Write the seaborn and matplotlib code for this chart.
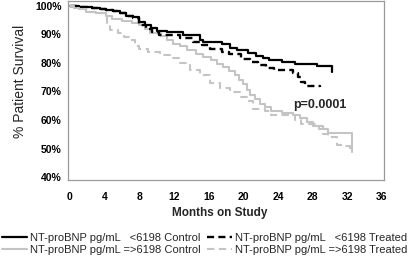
import matplotlib
matplotlib.use("Agg")
import matplotlib.pyplot as plt
import seaborn as sns
import pandas as pd

# ---- data ----
ctrl_low_t = [0, 1, 2.5, 3.5, 4.2, 5, 5.8, 6.5, 7.3, 8, 8.6, 9.3, 10, 11.2, 13, 15, 15.4,
              17.5, 18.5, 19.3, 20.5, 21.5, 22.3, 23, 24.5, 26, 28.5, 30.2]
ctrl_low_s = [100, 99.7, 99.4, 99, 98.6, 98.1, 97.4, 96.6, 96, 94.5, 93.2, 92.3, 91.3, 91.0,
              89.8, 88.2, 87.3, 86.5, 85.4, 84.6, 83.6, 82.6, 81.8, 81.1, 80.4, 79.8, 78.8, 77.0]

treat_low_t = [0, 1, 2.5, 3.5, 4.2, 5, 5.8, 6.5, 7.3, 8, 8.8, 9.5, 10.3, 12.7, 14.2, 15.2,
               16.2, 17.5, 18.3, 19.7, 20.8, 21.7, 22.6, 23.5, 25.7, 26.3, 26.7, 27.1, 28.8]
treat_low_s = [100, 99.7, 99.4, 99, 98.6, 98.1, 97.4, 96.6, 95.8, 93.5, 92.0, 91.0, 89.8,
               88.8, 87.4, 86.2, 85.0, 84.0, 83.0, 81.5, 80.2, 79.2, 78.3, 77.5, 76.6, 75.0,
               73.5, 72.0, 71.6]

ctrl_high_t = [0, 0.5, 1, 1.8, 3, 4.2, 4.8, 6, 7.2, 8, 8.6, 9.2, 10.5, 11.2, 11.9, 12.7,
               13.5, 14.5, 15.3, 16.3, 17, 17.7, 18.3, 19, 19.5, 20, 20.4, 20.8, 21.3, 21.9,
               22.5, 23.2, 24.5, 25.7, 26.5, 27.3, 28, 28.7, 29.8, 32.5]
ctrl_high_s = [100, 99.4, 98.8, 97.9, 97.5, 96.5, 95.6, 94.8, 94.0, 93.2, 91.8, 90.6, 89.4,
               88.1, 86.6, 85.8, 84.6, 83.3, 82.2, 81.0, 79.8, 78.6, 77.3, 75.8, 74.2, 72.5,
               70.5, 68.8, 67.5, 65.6, 64.6, 63.2, 62.6, 61.6, 60.8, 59.4, 58.0, 56.9, 55.3,
               48.6]

treat_high_t = [0, 0.5, 1, 1.8, 3, 4.0, 4.3, 4.6, 5.5, 6.2, 6.8, 7.5, 8, 9, 10.4, 11.5,
                12.7, 13.8, 15, 16.1, 17.3, 18.5, 19.6, 20.4, 21.1, 22.5, 23.2, 26.0, 26.6,
                28.5, 29.2, 29.8, 30.8, 31.5, 32.3]
treat_high_s = [100, 99.4, 98.8, 97.9, 97.5, 96.0, 93.5, 91.6, 90.5, 89.1, 88.0, 86.0, 84.8,
                84.0, 82.8, 81.6, 79.9, 77.5, 75.8, 72.9, 71.1, 69.9, 68.2, 66.6, 64.0, 63.0,
                61.8, 60.0, 58.6, 58.0, 55.2, 54.0, 51.2, 50.8, 49.2]

labels = ["NT-proBNP pg/mL   <6198 Control",
          "NT-proBNP pg/mL =>6198 Control",
          "NT-proBNP pg/mL   <6198 Treated",
          "NT-proBNP pg/mL =>6198 Treated"]
x_ticks = [0, 4, 8, 12, 16, 20, 24, 28, 32, 36]
y_ticks = [40, 50, 60, 70, 80, 90, 100]
p_text = "p=0.0001"

series = [(ctrl_low_t, ctrl_low_s), (ctrl_high_t, ctrl_high_s),
          (treat_low_t, treat_low_s), (treat_high_t, treat_high_s)]
frames = []
for lab, (t, s) in zip(labels, series):
    frames.append(pd.DataFrame({"month": t, "surv": s, "group": lab}))
df = pd.concat(frames, ignore_index=True)

sns.set_style("white")
plt.rcParams['font.family'] = ['Liberation Sans', 'DejaVu Sans']

palette = {labels[0]: "#000000", labels[1]: "#c4c4c4",
           labels[2]: "#000000", labels[3]: "#c4c4c4"}
dashes = {labels[0]: "", labels[1]: "", labels[2]: (3.0, 1.8), labels[3]: (3.5, 2.2)}

fig = plt.figure(figsize=(4.1, 2.56), dpi=100)
ax = fig.add_axes([68 / 410, 76 / 256, 316 / 410, 179 / 256])

sns.lineplot(data=df, x="month", y="surv", hue="group", style="group",
             hue_order=labels, style_order=labels, palette=palette, dashes=dashes,
             estimator=None, sort=False, drawstyle="steps-post", linewidth=1.5,
             legend=False, ax=ax)

lines = ax.get_lines()
for ln, lab in zip(lines, labels):
    ln.set_label(lab)
lines[0].set_linewidth(1.6)
lines[2].set_linewidth(1.7)

ax.set_xlim(-0.23, 36.23)
ax.set_ylim(38.95, 101.75)
ax.set_xticks(x_ticks)
ax.set_xticklabels([str(v) for v in x_ticks])
ax.set_yticks(y_ticks)
ax.set_yticklabels([f"{v}%" for v in y_ticks])
for sp in ax.spines.values():
    sp.set_color("#9a9a9a")
    sp.set_linewidth(0.9)
ax.tick_params(axis="both", direction="out", length=3, width=0.8, colors="#9a9a9a",
               labelcolor="black", labelsize=7.5)
ax.tick_params(axis="x", pad=5.5)
ax.tick_params(axis="y", pad=1.5)
plt.setp(ax.get_xticklabels(), fontweight="bold")
plt.setp(ax.get_yticklabels(), fontweight="bold")

ax.set_xlabel("Months on Study", fontsize=8.5, fontweight="bold")
ax.xaxis.set_label_coords(0.48, -0.15)
ax.set_ylabel("% Patient Survival", fontsize=10)
ax.yaxis.set_label_coords(-0.13, 0.55)

ax.text(25.7, 65.3, p_text, ha="left", va="center", fontsize=9, fontweight="bold")

handles = [lines[0], lines[1], lines[2], lines[3]]
fig.legend(handles, labels, loc="center", bbox_to_anchor=(0.5, 12 / 256), ncol=2,
           frameon=False, fontsize=8, handlelength=2.2, handletextpad=0.3,
           columnspacing=0.6, labelspacing=0.2, borderpad=0, borderaxespad=0)

fig.savefig("out.png", dpi=100)
